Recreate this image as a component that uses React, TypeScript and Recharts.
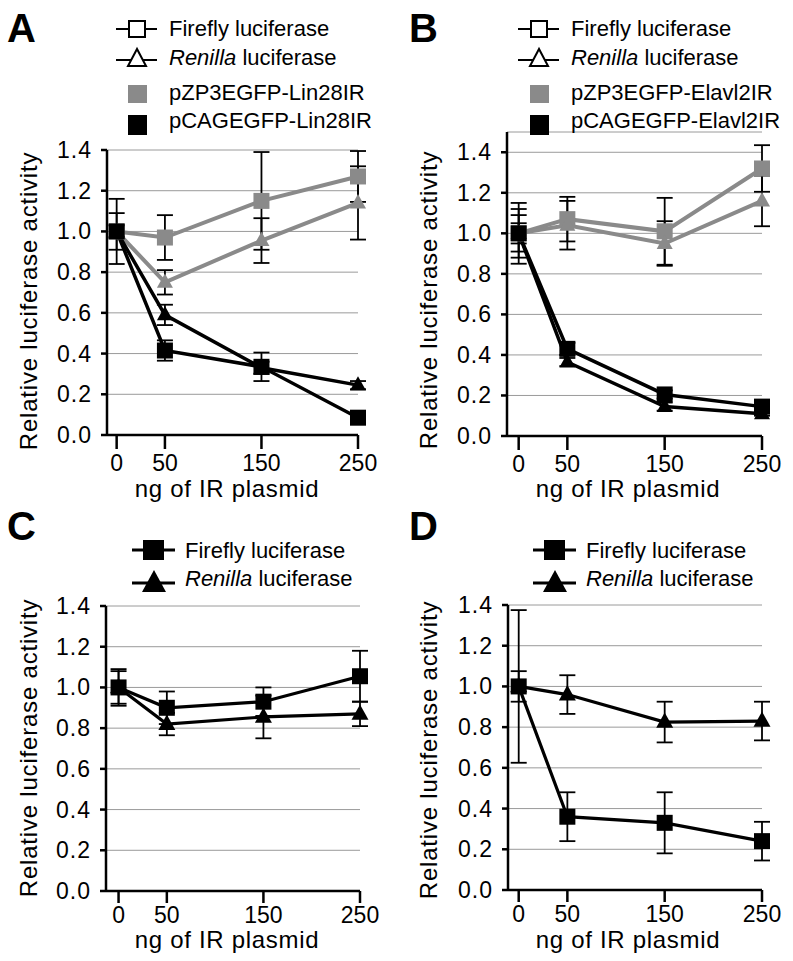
import { CartesianGrid, ErrorBar, Line, LineChart, XAxis, YAxis } from "recharts";

const FONT = '"Liberation Sans", Arial, Helvetica, sans-serif';
const GRAY = "#8a8a8a";
const GRID = "#9a9a9a";

// shared axes
const doses = [0, 50, 150, 250];
const doseTicks = [0, 50, 150, 250];
const activityTicks = [0, 0.2, 0.4, 0.6, 0.8, 1.0, 1.2, 1.4];

// A — Lin28IR
const linZp3Firefly = [1.0, 0.97, 1.15, 1.27];
const linZp3FireflyErr = [0.16, 0.11, 0.24, 0.125];
const linZp3Renilla = [1.0, 0.75, 0.955, 1.14];
const linZp3RenillaErr = [0.09, 0.06, 0.11, 0.18];
const linCagFirefly = [1.0, 0.415, 0.335, 0.085];
const linCagFireflyErr = [0.03, 0.05, 0.07, 0.02];
const linCagRenilla = [1.0, 0.59, 0.33, 0.245];
const linCagRenillaErr = [0.03, 0.05, 0.03, 0.02];

// B — Elavl2IR
const elaZp3Firefly = [1.0, 1.07, 1.01, 1.32];
const elaZp3FireflyErr = [0.15, 0.11, 0.165, 0.115];
const elaZp3Renilla = [1.0, 1.04, 0.95, 1.16];
const elaZp3RenillaErr = [0.12, 0.12, 0.11, 0.125];
const elaCagFirefly = [1.0, 0.43, 0.205, 0.145];
const elaCagFireflyErr = [0.09, 0.03, 0.02, 0.02];
const elaCagRenilla = [1.0, 0.365, 0.145, 0.11];
const elaCagRenillaErr = [0.05, 0.02, 0.02, 0.01];

// C
const cFirefly = [1.0, 0.9, 0.93, 1.055];
const cFireflyErr = [0.09, 0.08, 0.07, 0.125];
const cRenilla = [1.0, 0.82, 0.855, 0.87];
const cRenillaErr = [0.08, 0.055, 0.105, 0.06];

// D
const dFirefly = [1.0, 0.36, 0.33, 0.24];
const dFireflyErr = [0.375, 0.12, 0.15, 0.095];
const dRenilla = [1.0, 0.96, 0.825, 0.83];
const dRenillaErr = [0.075, 0.095, 0.1, 0.095];

type Cols = Record<string, number[]>;
const buildRows = (cols: Cols) =>
  doses.map((dose, i) => {
    const row: Record<string, number> = { dose };
    for (const k of Object.keys(cols)) row[k] = cols[k][i];
    return row;
  });

const rowsA = buildRows({
  zf: linZp3Firefly, zfErr: linZp3FireflyErr,
  zr: linZp3Renilla, zrErr: linZp3RenillaErr,
  cf: linCagFirefly, cfErr: linCagFireflyErr,
  cr: linCagRenilla, crErr: linCagRenillaErr,
});
const rowsB = buildRows({
  zf: elaZp3Firefly, zfErr: elaZp3FireflyErr,
  zr: elaZp3Renilla, zrErr: elaZp3RenillaErr,
  cf: elaCagFirefly, cfErr: elaCagFireflyErr,
  cr: elaCagRenilla, crErr: elaCagRenillaErr,
});
const rowsC = buildRows({ cf: cFirefly, cfErr: cFireflyErr, cr: cRenilla, crErr: cRenillaErr });
const rowsD = buildRows({ cf: dFirefly, cfErr: dFireflyErr, cr: dRenilla, crErr: dRenillaErr });

type Shape = "square" | "triangle";
type Series = { key: string; color: string; width: number; shape: Shape; size: number };

const fourSeries: Series[] = [
  { key: "zf", color: GRAY, width: 4, shape: "square", size: 16 },
  { key: "zr", color: GRAY, width: 4, shape: "triangle", size: 16 },
  { key: "cf", color: "#000", width: 3.5, shape: "square", size: 16 },
  { key: "cr", color: "#000", width: 3.5, shape: "triangle", size: 16 },
];
const twoSeries: Series[] = [
  { key: "cf", color: "#000", width: 3.2, shape: "square", size: 16 },
  { key: "cr", color: "#000", width: 3.2, shape: "triangle", size: 17 },
];

const makeDot = (shape: Shape, size: number, fill: string) => (p: any) => {
  const k = `${shape}-${p.index}`;
  if (p.cx == null || p.cy == null) return <g key={k} />;
  if (shape === "square")
    return <rect key={k} x={p.cx - size / 2} y={p.cy - size / 2} width={size} height={size} fill={fill} />;
  const h = size * 0.9;
  return (
    <polygon
      key={k}
      points={`${p.cx},${p.cy - h * 0.62} ${p.cx - size / 2},${p.cy + h * 0.38} ${p.cx + size / 2},${p.cy + h * 0.38}`}
      fill={fill}
    />
  );
};

const TICK_FONT = 23;

const XTick = (p: any) => (
  <text x={p.x} y={p.y + 16} textAnchor="middle" fontSize={TICK_FONT} fontFamily={FONT} fill="#000">
    {p.payload.value}
  </text>
);

const YTick = (p: any) => (
  <text x={p.x} y={p.y + 8} textAnchor="end" fontSize={TICK_FONT} fontFamily={FONT} fill="#000" letterSpacing={1}>
    {Number(p.payload.value).toFixed(1)}
  </text>
);

type PanelProps = {
  left: number;
  top: number;
  width: number;
  margin: { top: number; right: number; left: number };
  xAxisHeight: number;
  xDomain: [number, number];
  yDomain: [number, number];
  rows: Record<string, number>[];
  series: Series[];
  xTickSize: number;
  xTickGap: number;
};

function Panel({ left, top, width, margin, xAxisHeight, xDomain, yDomain, rows, series, xTickSize, xTickGap }: PanelProps) {
  const axisStroke = { stroke: "#000", strokeWidth: 2.5 };
  return (
    <div style={{ position: "absolute", left, top }}>
      <LineChart width={width} height={480} data={rows} margin={{ ...margin, bottom: 0 }}>
        <CartesianGrid vertical={false} stroke={GRID} strokeWidth={1} />
        <XAxis
          type="number"
          dataKey="dose"
          domain={xDomain}
          ticks={doseTicks}
          interval={0}
          height={xAxisHeight}
          tickSize={xTickSize}
          tickMargin={xTickGap}
          axisLine={axisStroke}
          tickLine={axisStroke}
          tick={XTick}
        />
        <YAxis
          type="number"
          domain={yDomain}
          ticks={activityTicks}
          interval={0}
          width={100}
          tickSize={6}
          tickMargin={9}
          axisLine={axisStroke}
          tickLine={axisStroke}
          tick={YTick}
        />
        {series.map((s) => (
          <Line
            key={s.key}
            type="linear"
            dataKey={s.key}
            stroke={s.color}
            strokeWidth={s.width}
            dot={makeDot(s.shape, s.size, s.color)}
            activeDot={false}
            isAnimationActive={false}
          >
            <ErrorBar dataKey={`${s.key}Err`} direction="y" width={8} stroke="#000" strokeWidth={1.8} />
          </Line>
        ))}
      </LineChart>
    </div>
  );
}

const txt = { fontFamily: FONT, fill: "#000" } as const;

function OpenLegend({ dx, items }: { dx: number; items: string[] }) {
  return (
    <g>
      <line x1={116 + dx} x2={157 + dx} y1={29} y2={29} stroke="#000" strokeWidth={2} />
      <rect x={129 + dx} y={21} width={16} height={16} fill="#fff" stroke="#000" strokeWidth={2} />
      <text x={169 + dx} y={36} fontSize={22} {...txt}>Firefly luciferase</text>
      <line x1={116 + dx} x2={157 + dx} y1={60} y2={60} stroke="#000" strokeWidth={2} />
      <polygon points={`${137 + dx},49 ${128 + dx},66 ${146 + dx},66`} fill="#fff" stroke="#000" strokeWidth={2} />
      <text x={169 + dx} y={65} fontSize={22} {...txt}>
        <tspan fontStyle="italic">Renilla</tspan> luciferase
      </text>
      <rect x={128 + dx} y={85} width={19} height={18} fill={GRAY} />
      <text x={169 + dx} y={100} fontSize={22} {...txt}>{items[0]}</text>
      <rect x={128 + dx} y={115} width={19} height={20} fill="#000" />
      <text x={169 + dx} y={128} fontSize={22} {...txt}>{items[1]}</text>
    </g>
  );
}

function FilledLegend({ dx }: { dx: number }) {
  return (
    <g>
      <line x1={132 + dx} x2={175 + dx} y1={550} y2={550} stroke="#000" strokeWidth={3} />
      <rect x={143 + dx} y={540} width={21} height={20} fill="#000" />
      <text x={185 + dx} y={558} fontSize={22} {...txt}>Firefly luciferase</text>
      <line x1={132 + dx} x2={175 + dx} y1={583} y2={583} stroke="#000" strokeWidth={3} />
      <polygon points={`${154 + dx},570 ${142 + dx},592 ${166 + dx},592`} fill="#000" />
      <text x={185 + dx} y={586} fontSize={22} {...txt}>
        <tspan fontStyle="italic">Renilla</tspan> luciferase
      </text>
    </g>
  );
}

const YTitle = ({ cx, cy }: { cx: number; cy: number }) => (
  <text
    transform={`translate(${cx},${cy}) rotate(-90)`}
    textAnchor="middle"
    dominantBaseline="central"
    fontSize={24}
    letterSpacing={0.8}
    {...txt}
  >
    Relative luciferase activity
  </text>
);

const XTitle = ({ cx, y }: { cx: number; y: number }) => (
  <text x={cx} y={y} textAnchor="middle" fontSize={24} letterSpacing={0.7} {...txt}>
    ng of IR plasmid
  </text>
);

export default function App() {
  return (
    <div style={{ position: "absolute", left: 0, top: 0, width: 793, height: 961, background: "#fff" }}>
      <Panel
        left={0} top={0} width={400}
        margin={{ top: 150, right: 42, left: 7 }}
        xAxisHeight={45} xDomain={[-10, 250]} yDomain={[0, 1.4]}
        rows={rowsA} series={fourSeries} xTickSize={14} xTickGap={6}
      />
      <Panel
        left={400} top={0} width={393}
        margin={{ top: 132, right: 31, left: 7 }}
        xAxisHeight={44} xDomain={[-12, 250]} yDomain={[0, 1.5]}
        rows={rowsB} series={fourSeries} xTickSize={14} xTickGap={6}
      />
      <Panel
        left={0} top={480} width={400}
        margin={{ top: 126, right: 40, left: 6 }}
        xAxisHeight={69} xDomain={[-13, 250]} yDomain={[0, 1.4]}
        rows={rowsC} series={twoSeries} xTickSize={12} xTickGap={4}
      />
      <Panel
        left={400} top={480} width={393}
        margin={{ top: 125, right: 31, left: 8 }}
        xAxisHeight={70} xDomain={[-11, 250]} yDomain={[0, 1.4]}
        rows={rowsD} series={twoSeries} xTickSize={12} xTickGap={4}
      />
      <svg
        width={793}
        height={961}
        style={{ position: "absolute", left: 0, top: 0, pointerEvents: "none" }}
      >
        <text x={7} y={42} fontSize={40} fontWeight="bold" {...txt}>A</text>
        <text x={409} y={42} fontSize={40} fontWeight="bold" {...txt}>B</text>
        <text x={7} y={540} fontSize={40} fontWeight="bold" {...txt}>C</text>
        <text x={409} y={540} fontSize={40} fontWeight="bold" {...txt}>D</text>
        <OpenLegend dx={0} items={["pZP3EGFP-Lin28IR", "pCAGEGFP-Lin28IR"]} />
        <OpenLegend dx={402} items={["pZP3EGFP-Elavl2IR", "pCAGEGFP-Elavl2IR"]} />
        <FilledLegend dx={0} />
        <FilledLegend dx={401} />
        <YTitle cx={28} cy={301} />
        <YTitle cx={428} cy={300} />
        <YTitle cx={28} cy={748} />
        <YTitle cx={428} cy={750} />
        <XTitle cx={227} y={497} />
        <XTitle cx={628} y={497} />
        <XTitle cx={227} y={948} />
        <XTitle cx={628} y={948} />
      </svg>
    </div>
  );
}
